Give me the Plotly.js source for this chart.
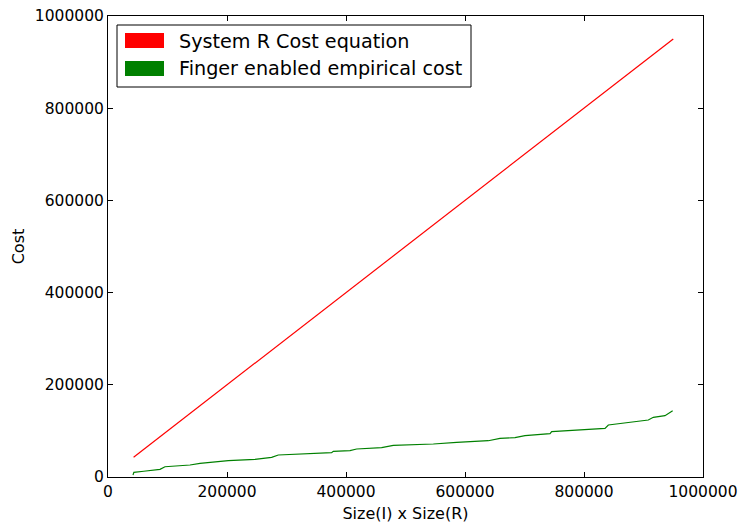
<!DOCTYPE html>
<html><head><meta charset="utf-8">
<script src="https://cdn.plot.ly/plotly-3.0.1.min.js"></script>
<style>body{margin:0;background:#fff}#c{width:740px;height:529px}</style>
</head><body><div id="c"></div>
<script>
var redX = [43000, 950000];
var redY = [43000, 950000];
var greenX = [42000, 43500, 60000, 87400, 95800, 110000, 137800, 154600, 202200, 247000, 262000, 275000, 286200, 375800, 378700, 406700, 417900, 459900, 479500, 507600, 546800, 586000, 622400, 639200, 658800, 684000, 700800, 742900, 745700, 796100, 835300, 840900, 908100, 916500, 936100, 949000];
var greenY = [4300, 10000, 12500, 16700, 22300, 24000, 26000, 29700, 35400, 38300, 40500, 42700, 47700, 52700, 55700, 57100, 60700, 63600, 68700, 69400, 71600, 75300, 76600, 78700, 83900, 85300, 89600, 93900, 98300, 102000, 105600, 112800, 123600, 129500, 133000, 143800];
var legendLabels = ["System R Cost equation", "Finger enabled empirical cost"];
var legendColors = ["#ff0000", "#008000"];
var tickVals = [0, 200000, 400000, 600000, 800000, 1000000];
var tickText = ["0", "200000", "400000", "600000", "800000", "1000000"];

var F = "DejaVu Sans, sans-serif";
var traces = [
  {x: redX, y: redY, mode: "lines", line: {color: legendColors[0], width: 1.2}, showlegend: false, hoverinfo: "none"},
  {x: greenX, y: greenY, mode: "lines", line: {color: legendColors[1], width: 1.2}, showlegend: false, hoverinfo: "none"}
];
var W = 595, H = 461;
function px(x){return (x-108)/W;}
function py(y){return (477-y)/H;}
var shapes = [
  {type:"rect", xref:"paper", yref:"paper", x0:px(117), x1:px(471), y0:py(87), y1:py(25), line:{color:"#000", width:1}, fillcolor:"#fff"},
  {type:"rect", xref:"paper", yref:"paper", x0:px(125), x1:px(164), y0:py(48), y1:py(33), line:{width:0}, fillcolor:legendColors[0]},
  {type:"rect", xref:"paper", yref:"paper", x0:px(125), x1:px(164), y0:py(76), y1:py(61), line:{width:0}, fillcolor:legendColors[1]}
];
var annotations = [
  {xref:"paper", yref:"paper", x:px(177), y:py(41), text:legendLabels[0], showarrow:false, xanchor:"left", yanchor:"middle", font:{family:F, size:19.2, color:"#000"}},
  {xref:"paper", yref:"paper", x:px(177), y:py(69), text:legendLabels[1], showarrow:false, xanchor:"left", yanchor:"middle", font:{family:F, size:19.2, color:"#000"}}
];
var axisCommon = {
  range:[0,1000000], tickvals:tickVals, ticktext:tickText, ticks:"inside", ticklen:5, tickwidth:1, tickcolor:"#000",
  showline:true, linecolor:"#000", linewidth:1, mirror:"allticks", showgrid:false, zeroline:false,
  tickfont:{family:F, size:15.5, color:"#000"}
};
var layout = {
  width:740, height:529, margin:{l:108, r:37, t:16, b:52},
  paper_bgcolor:"#fff", plot_bgcolor:"#fff", showlegend:false,
  xaxis:Object.assign({}, axisCommon, {title:{text:"Size(I) x Size(R)", font:{family:F, size:16, color:"#000"}, standoff:8}}),
  yaxis:Object.assign({}, axisCommon, {title:{text:"Cost", font:{family:F, size:16, color:"#000"}, standoff:6}}),
  shapes:shapes, annotations:annotations
};
Plotly.newPlot("c", traces, layout, {staticPlot:true});
</script></body></html>
